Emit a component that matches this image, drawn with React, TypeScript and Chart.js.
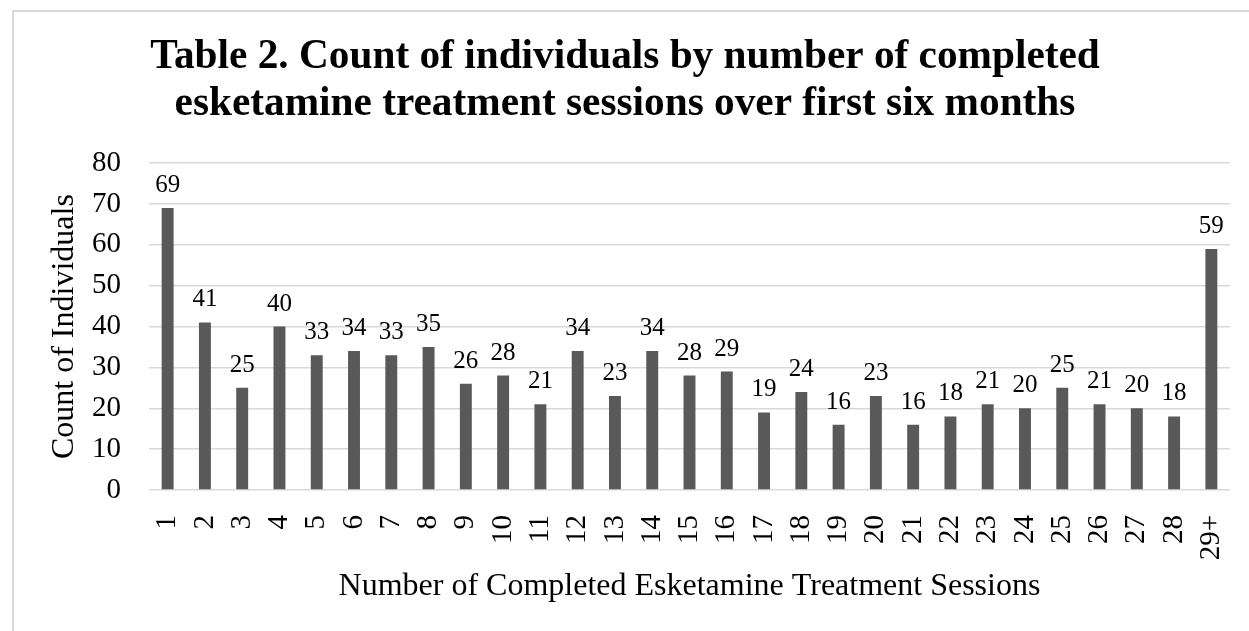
import React, { useEffect, useRef } from "react";
import { Chart, registerables } from "chart.js";

Chart.register(...registerables);

const categories: string[] = [
  "1", "2", "3", "4", "5", "6", "7", "8", "9", "10",
  "11", "12", "13", "14", "15", "16", "17", "18", "19", "20",
  "21", "22", "23", "24", "25", "26", "27", "28", "29+",
];

const counts: number[] = [
  69, 41, 25, 40, 33, 34, 33, 35, 26, 28,
  21, 34, 23, 34, 28, 29, 19, 24, 16, 23,
  16, 18, 21, 20, 25, 21, 20, 18, 59,
];

const titleLines: string[] = [
  "Table 2. Count of individuals by number of completed",
  "esketamine treatment sessions over first six months",
];
const yTitle = "Count of Individuals";
const xTitle = "Number of Completed Esketamine Treatment Sessions";

const FONT = "'Liberation Serif', 'Times New Roman', serif";

const dataLabelPlugin = {
  id: "dataLabels",
  afterDatasetsDraw(chart: any) {
    const ctx = chart.ctx;
    const meta = chart.getDatasetMeta(0);
    const values = chart.data.datasets[0].data;
    ctx.save();
    ctx.font = `25px ${FONT}`;
    ctx.fillStyle = "#000000";
    ctx.textAlign = "center";
    ctx.textBaseline = "alphabetic";
    meta.data.forEach((el: any, i: number) => {
      ctx.fillText(String(values[i]), el.x, el.y - 16);
    });
    ctx.restore();
  },
};

export default function App() {
  const canvasRef = useRef<HTMLCanvasElement | null>(null);

  useEffect(() => {
    if (!canvasRef.current) return;
    const chart = new Chart(canvasRef.current, {
      type: "bar",
      data: {
        labels: categories,
        datasets: [
          {
            data: counts,
            backgroundColor: "#595959",
            borderWidth: 0,
            barPercentage: 0.32,
            categoryPercentage: 1,
          },
        ],
      },
      options: {
        responsive: false,
        animation: false,
        layout: { padding: { left: 20, right: 19, top: 0, bottom: 0 } },
        plugins: {
          legend: { display: false },
          tooltip: { enabled: false },
          title: {
            display: true,
            text: titleLines,
            color: "#000000",
            font: { family: FONT, size: 41.3, weight: "bold", lineHeight: 1.14 },
            padding: { top: 34, bottom: 35 },
          },
        },
        scales: {
          x: {
            grid: { display: false, drawTicks: false },
            border: { display: false },
            ticks: {
              color: "#000000",
              font: { family: FONT, size: 29 },
              maxRotation: 90,
              minRotation: 90,
              padding: 25,
              autoSkip: false,
            },
            title: {
              display: true,
              text: xTitle,
              color: "#000000",
              font: { family: FONT, size: 32, lineHeight: 1.2 },
              padding: { top: 0, bottom: 25 },
            },
            afterFit(scale: any) {
              scale.height = 141;
              scale.paddingLeft = 0;
              scale.paddingRight = 0;
            },
          },
          y: {
            min: 0,
            max: 80,
            grid: { color: "#d9d9d9", lineWidth: 1.5, drawTicks: false },
            border: { display: false },
            ticks: {
              stepSize: 10,
              color: "#000000",
              font: { family: FONT, size: 29 },
              padding: 28,
            },
            title: {
              display: true,
              text: yTitle,
              color: "#000000",
              font: { family: FONT, size: 32, lineHeight: 1.2 },
              padding: { top: 25, bottom: 0 },
            },
            afterFit(scale: any) {
              scale.width = 129;
            },
          },
        },
      },
      plugins: [dataLabelPlugin],
    });
    return () => chart.destroy();
  }, []);

  return (
    <div
      style={{
        position: "absolute",
        left: 0,
        top: 0,
        width: 1249,
        height: 631,
        overflow: "hidden",
        background: "#ffffff",
      }}
    >
      <div
        style={{
          position: "absolute",
          left: 12,
          top: 10,
          width: 1300,
          height: 700,
          border: "2px solid #d9d9d9",
          boxSizing: "border-box",
        }}
      />
      <canvas
        ref={canvasRef}
        width={1249}
        height={631}
        style={{ position: "absolute", left: 0, top: 0 }}
      />
    </div>
  );
}
